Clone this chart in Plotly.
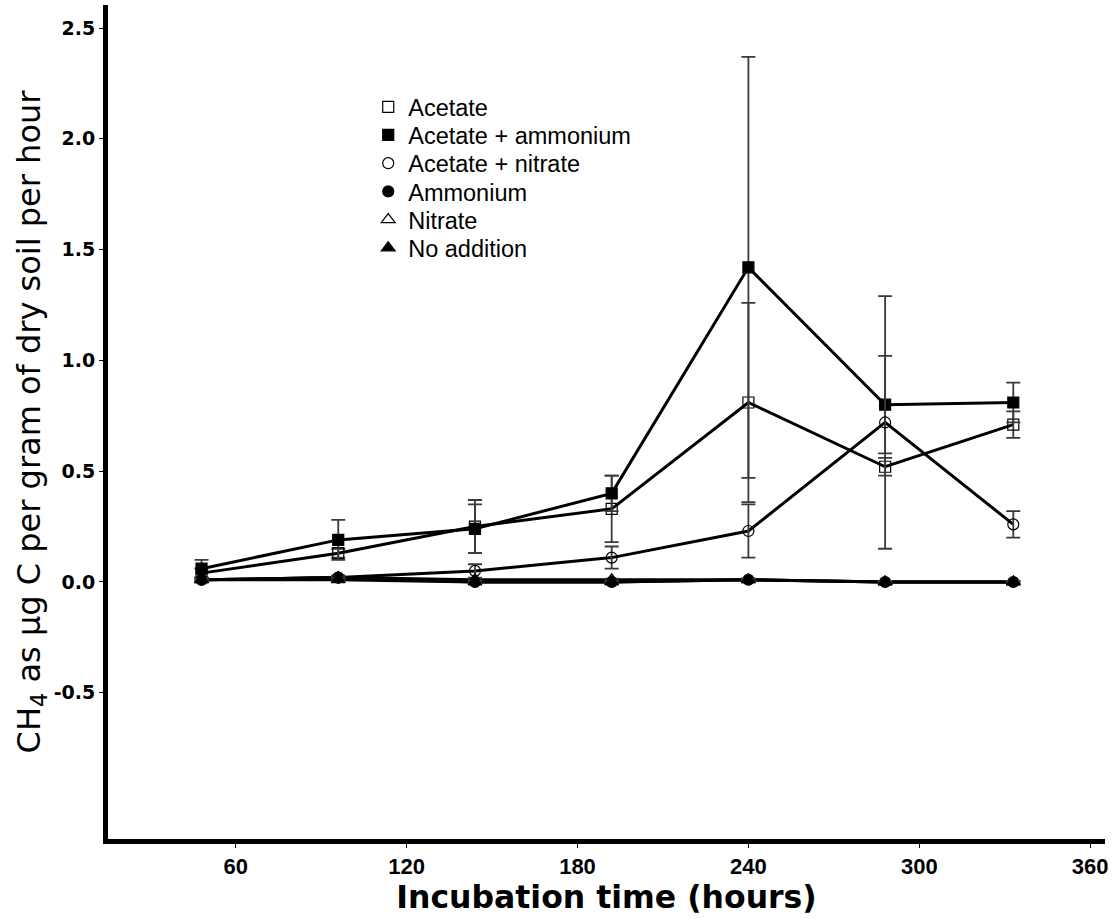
import plotly.graph_objects as go

hours = [48, 96, 144, 192, 240, 288, 333]

acetate = [0.04, 0.13, 0.25, 0.33, 0.81, 0.52, 0.71]
acetate_err = [0.02, 0.02, 0.12, 0.15, 0.45, 0.04, 0.06]

acetate_ammonium = [0.06, 0.19, 0.24, 0.40, 1.42, 0.80, 0.81]
acetate_ammonium_err = [0.04, 0.09, 0.11, 0.08, 0.95, 0.22, 0.09]

acetate_nitrate = [0.01, 0.02, 0.05, 0.11, 0.23, 0.72, 0.26]
acetate_nitrate_err = [0.01, 0.01, 0.03, 0.05, 0.12, 0.57, 0.06]

ammonium = [0.01, 0.02, 0.00, 0.00, 0.01, 0.00, 0.00]
ammonium_err = [0.005, 0.005, 0.005, 0.005, 0.005, 0.005, 0.005]

nitrate = [0.01, 0.02, 0.01, 0.01, 0.01, 0.00, 0.00]
nitrate_err = [0.005, 0.005, 0.005, 0.005, 0.005, 0.005, 0.005]

no_addition = [0.01, 0.01, 0.00, 0.00, 0.01, 0.00, 0.00]
no_addition_err = [0.005, 0.005, 0.005, 0.005, 0.005, 0.005, 0.005]

x_ticks = [60, 120, 180, 240, 300, 360]
y_ticks = [-0.5, 0.0, 0.5, 1.0, 1.5, 2.0, 2.5]
y_tick_text = ["-0.5", "0.0", "0.5", "1.0", "1.5", "2.0", "2.5"]

series = [
    ("Acetate", acetate, acetate_err, "square-open", 11),
    ("Acetate + ammonium", acetate_ammonium, acetate_ammonium_err, "square", 11),
    ("Acetate + nitrate", acetate_nitrate, acetate_nitrate_err, "circle-open", 11),
    ("Ammonium", ammonium, ammonium_err, "circle", 11),
    ("Nitrate", nitrate, nitrate_err, "triangle-up-open", 12),
    ("No addition", no_addition, no_addition_err, "triangle-up", 12),
]

W, H = 1115, 919
M_L, M_R, M_T, M_B = 108, 10, 5, 80
plot_h = H - M_T - M_B

fig = go.Figure()
# connecting lines (not in legend)
for name, vals, errs, sym, size in series:
    fig.add_trace(go.Scatter(
        x=hours, y=vals, name=name, mode="lines", showlegend=False,
        line=dict(color="black", width=3), hoverinfo="skip",
    ))

# markers with error bars; each entry in its own legend so spacing can be set
legend_layout = {}
for i, (name, vals, errs, sym, size) in enumerate(series):
    key = "legend" if i == 0 else f"legend{i + 1}"
    fig.add_trace(go.Scatter(
        x=hours, y=vals, name=name, mode="markers", legend=key,
        marker=dict(symbol=sym, size=size, color="black",
                    line=dict(color="black", width=1.2)),
        error_y=dict(type="data", array=errs, visible=True,
                     color="#3a3a3a", thickness=1.8, width=7),
    ))
    center_px = 107 + 28.2 * i
    legend_layout[key] = dict(
        x=0.261, y=1 - (center_px - M_T) / plot_h,
        xanchor="left", yanchor="middle",
        font=dict(family="Liberation Sans, Arial, sans-serif", size=23.5, color="black"),
        bgcolor="rgba(0,0,0,0)", itemwidth=30, borderwidth=0,
    )

fig.update_layout(
    width=W, height=H,
    margin=dict(l=M_L, r=M_R, t=M_T, b=M_B),
    paper_bgcolor="white", plot_bgcolor="white",
    showlegend=True,
    font=dict(color="black"),
    **legend_layout,
)

fig.update_xaxes(
    range=[15.16, 365.2], tickvals=x_ticks, ticktext=[str(v) for v in x_ticks],
    showline=True, linewidth=5, linecolor="black", mirror=False,
    ticks="outside", ticklen=4, tickwidth=1, tickcolor="black",
    showgrid=False, zeroline=False, automargin=False,
    tickfont=dict(family="Liberation Sans, Arial, sans-serif", size=22, color="black", weight="bold"),
    title=dict(text="Incubation time (hours)",
               font=dict(family="DejaVu Sans, sans-serif", size=31.5, color="black", weight="bold"),
               standoff=6),
)

fig.update_yaxes(
    range=[-1.16, 2.604], tickvals=y_ticks, ticktext=y_tick_text,
    showline=True, linewidth=5, linecolor="black", mirror=False,
    ticks="outside", ticklen=4, tickwidth=1, tickcolor="black",
    showgrid=False, zeroline=False, automargin=False,
    tickfont=dict(family="DejaVu Sans, sans-serif", size=19, color="black", weight="bold"),
    title=dict(text="CH<sub>4</sub> as \u03bcg C per gram of dry soil per hour",
               font=dict(family="DejaVu Sans, sans-serif", size=32, color="black"),
               standoff=5),
)

fig.write_html(
    "out.html",
    config={"displayModeBar": False},
    post_script="document.body.style.margin='0';document.body.style.overflow='hidden';",
)
